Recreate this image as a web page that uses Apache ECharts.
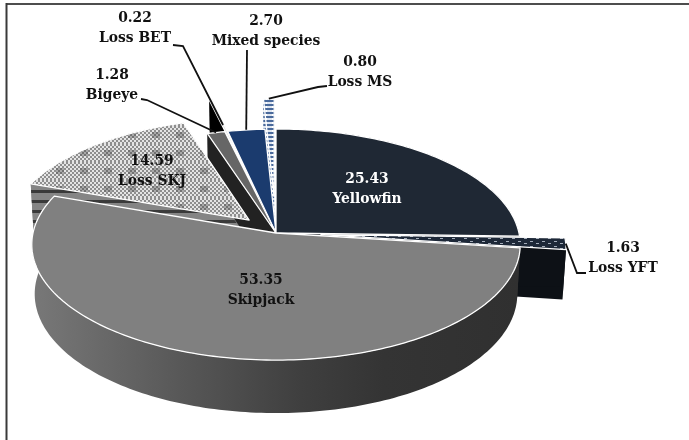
<!DOCTYPE html>
<html><head><meta charset="utf-8">
<style>html,body{margin:0;padding:0;background:#fff}#c{width:689px;height:440px}</style>
<script src="https://cdn.jsdelivr.net/npm/echarts@6/dist/echarts.min.js"></script>
</head><body><div id="c"></div>
<script>
// ---- data (clockwise from 12 o'clock) ----
const categories = ['Yellowfin','Loss YFT','Skipjack','Loss SKJ','Bigeye','Loss BET','Mixed species','Loss MS'];
const values     = [25.43, 1.63, 53.35, 14.59, 1.28, 0.22, 2.70, 0.80];
const valueLabels = ['25.43','1.63','53.35','14.59','1.28','0.22','2.70','0.80'];

// ---- look of the chart ----
const view = {cx:276, cy:233, A:243, B:114.4, D:49.8, k:0.1, m:0.012};
const explode = {'Loss YFT':0.185,'Loss SKJ':0.16,'Loss BET':0.35,'Loss MS':0.33};
const drawOrder = ['Loss BET','Loss MS','Loss SKJ','Mixed species','Bigeye','Yellowfin','Loss YFT','Skipjack'];
const labelPos = {'Yellowfin':[367,189,'#fff'],'Loss YFT':[623,258,'#111'],'Skipjack':[261,290,'#111'],'Loss SKJ':[152,171,'#111'],
  'Bigeye':[112,85,'#111'],'Loss BET':[135,28,'#111'],'Mixed species':[266,31,'#111'],'Loss MS':[360,72,'#111']};
// elbows of the leader lines; r = where on the slice's mid-radius the line lands
const leaders = {'Loss YFT':{r:1,pts:[[586,273],[577,273]]},'Bigeye':{r:1,pts:[[141,99],[147,100]]},
  'Loss BET':{r:0.72,pts:[[173,45],[183,46]]},'Mixed species':{r:1,pts:[[247,50]]},'Loss MS':{r:1,pts:[[327,86],[318,87]]}};

function tile(w,h,draw){const c=document.createElement('canvas');c.width=w;c.height=h;draw(c.getContext('2d'));return {image:c,repeat:'repeat'};}
const texSKJ = tile(24,18,g=>{
  for(let y=0;y<18;y++)for(let x=0;x<24;x++){
    const chk=((x>>1)+(y>>1))%2===0;
    const patch=(x>=8&&x<16&&y>=6&&y<12);
    g.fillStyle=chk?(patch?'#a8a8a8':'#e4e4e4'):(patch?'#727272':'#8e8e8e');
    g.fillRect(x,y,1,1);
  }});
const texYFT = tile(12,5,g=>{g.fillStyle='#1d2838';g.fillRect(0,0,12,5);g.fillStyle='#a4adba';g.fillRect(2,1,3,1);g.fillRect(8,3,3,1);});
const texMS  = tile(6,4,g=>{g.fillStyle='#dfe6f0';g.fillRect(0,0,6,4);g.fillStyle='#4a6a9c';g.fillRect(0,0,6,2);g.fillStyle='#fff';g.fillRect(2,2,1,2);});
const texSKJwall = tile(8,10,g=>{g.fillStyle='#858585';g.fillRect(0,0,8,10);g.fillStyle='#3a3a3a';g.fillRect(0,0,8,3);});
const skipWall = {type:'linear',x:33,y:0,x2:520,y2:0,global:true,colorStops:[
  {offset:0,color:'#787878'},{offset:0.3,color:'#585858'},{offset:0.55,color:'#3f3f3f'},{offset:0.72,color:'#343434'},{offset:1,color:'#303030'}]};
const looks = {
  'Yellowfin':{top:'#1f2834',wall:'#141a22'},
  'Loss YFT':{top:texYFT,wall:'#0d1116'},
  'Skipjack':{top:'#808080',wall:skipWall},
  'Loss SKJ':{top:texSKJ,wall:texSKJwall},
  'Bigeye':{top:'#666666',wall:'#222222'},
  'Loss BET':{top:'#d8d8d8',wall:'#000000'},
  'Mixed species':{top:'#1b3b6e',wall:'#10264a'},
  'Loss MS':{top:texMS,wall:texMS}
};

const total = values.reduce((a,b)=>a+b,0);
const angles = {}; let acc=0;
categories.forEach((n,i)=>{const a0=acc/total*2*Math.PI;acc+=values[i];angles[n]=[a0,acc/total*2*Math.PI];});

function P(u,v,z){const w=1+view.k*v+view.m*z;return [view.cx+view.A*u/w, view.cy-(view.B*v-view.D*z)/w];}
function offs(n){const d=explode[n]||0,[a,b]=angles[n],m=(a+b)/2;return [d*Math.sin(m),d*Math.cos(m)];}
function arc(n,z){const [a,b]=angles[n],[ox,oy]=offs(n),pts=[],N=Math.max(2,Math.ceil((b-a)/0.02));
  for(let i=0;i<=N;i++){const t=a+(b-a)*i/N;pts.push(P(ox+Math.sin(t),oy+Math.cos(t),z));}return pts;}
function poly(points,fill,stroke,lw){return {type:'polygon',shape:{points},style:{fill,stroke:stroke||null,lineWidth:lw||0,lineJoin:'round'}};}

function renderWalls(params,api){
  const n=drawOrder[api.value(0)],L=looks[n],[ox,oy]=offs(n);
  const apex0=P(ox,oy,0),apex1=P(ox,oy,1),top=arc(n,0),bot=arc(n,1);
  const ch=[poly([apex0,top[top.length-1],bot[bot.length-1],apex1],L.wall),
            poly([apex0,top[0],bot[0],apex1],L.wall),
            poly(top.concat(bot.slice().reverse()),L.wall)];
  if(n==='Bigeye'){ch[1].style.stroke='#9a9a9a';ch[1].style.lineWidth=0.5;}
  return {type:'group',children:ch};
}
function renderTops(params,api){
  const n=drawOrder[api.value(0)],L=looks[n],[ox,oy]=offs(n);
  return poly([P(ox,oy,0)].concat(arc(n,0)),L.top,'#ffffff',1.3);
}
function renderLabel(params,api){
  const n=categories[api.value(0)],[x,y,col]=labelPos[n],ch=[];
  const ld=leaders[n];
  if(ld){const [a,b]=angles[n],m=(a+b)/2,[ox,oy]=offs(n);
    const end=P(ox+ld.r*Math.sin(m),oy+ld.r*Math.cos(m),0);
    ch.push({type:'polyline',shape:{points:ld.pts.concat([end])},style:{fill:null,stroke:'#111',lineWidth:1.8}});}
  ch.push({type:'text',style:{text:valueLabels[api.value(0)]+'\n'+n,x,y,textAlign:'center',textVerticalAlign:'middle',
    fill:col,font:'bold 15.4px "DejaVu Serif Condensed","DejaVu Serif",serif',lineHeight:20}});
  return {type:'group',children:ch};
}
const chart=echarts.init(document.getElementById('c'),null,{renderer:'canvas'});
chart.setOption({
  animation:false,backgroundColor:'#fff',
  graphic:[
    {type:'line',shape:{x1:6,y1:4,x2:689,y2:4},style:{stroke:'#4d4d4d',lineWidth:2},z:-1},
    {type:'line',shape:{x1:6.5,y1:3,x2:6.5,y2:440},style:{stroke:'#3a3a3a',lineWidth:2},z:-1}
  ],
  series:[
    {type:'custom',coordinateSystem:'none',silent:true,renderItem:renderWalls,data:drawOrder.map((n,i)=>[i]),z:2},
    {type:'custom',coordinateSystem:'none',silent:true,renderItem:renderTops,data:drawOrder.map((n,i)=>[i]),z:3},
    {type:'custom',coordinateSystem:'none',silent:true,renderItem:renderLabel,data:categories.map((n,i)=>[i]),z:4}
  ]
});
</script></body></html>
